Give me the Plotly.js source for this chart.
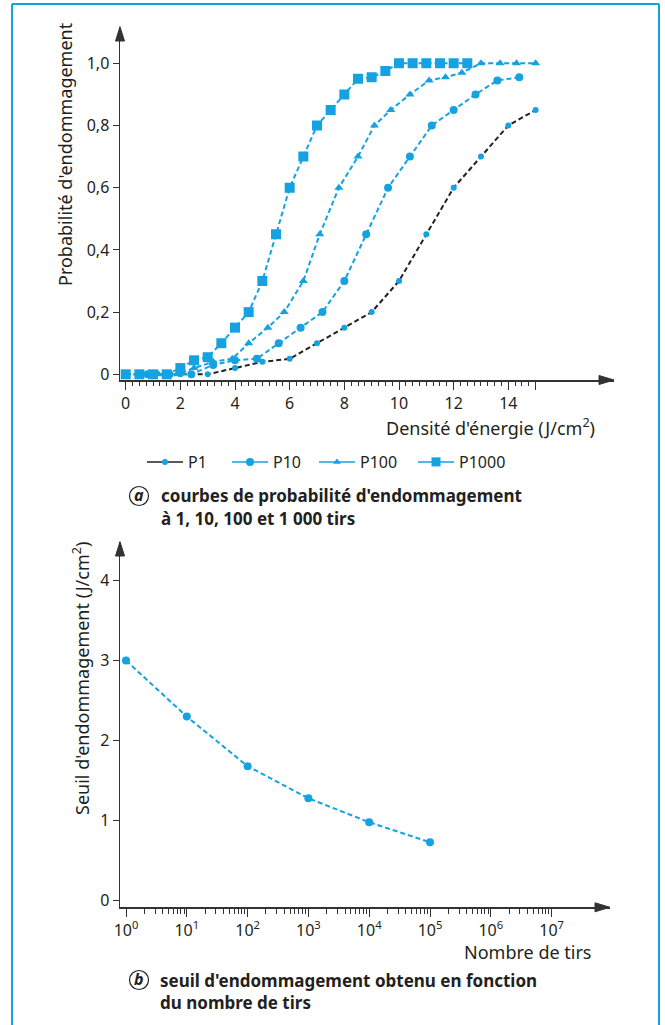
<!DOCTYPE html>
<html>
<head>
<meta charset="utf-8">
<script src="https://cdn.plot.ly/plotly-3.0.1.min.js"></script>
<style>
  html, body { margin: 0; padding: 0; background: #ffffff; }
  #chart { width: 665px; height: 1025px; }
</style>
</head>
<body>
<div id="chart"></div>
<script>
// ---- Data ----
// (a) damage probability vs energy density (J/cm2)
const P1_x = [0, 1, 2, 3, 4, 5, 6, 7, 8, 9, 10, 11, 12, 13, 14, 15];
const P1_y = [0, 0, 0, 0, 0.02, 0.04, 0.05, 0.1, 0.15, 0.2, 0.3, 0.45, 0.6, 0.7, 0.8, 0.85];

const P10_x = [0, 0.8, 1.6, 2.4, 3.2, 4.0, 4.8, 5.6, 6.4, 7.2, 8.0, 8.8, 9.6, 10.4, 11.2, 12.0, 12.8, 13.6, 14.4];
const P10_y = [0, 0, 0, 0, 0.03, 0.045, 0.05, 0.1, 0.15, 0.2, 0.3, 0.45, 0.6, 0.7, 0.8, 0.85, 0.9, 0.945, 0.955];

const P100_x = [0, 0.5, 1.2, 1.9, 2.5, 3.2, 3.9, 4.5, 5.2, 5.8, 6.5, 7.1, 7.8, 8.5, 9.1, 9.7, 10.4, 11.1, 11.7, 12.3, 13.0, 13.7, 14.3, 15.0];
const P100_y = [0, 0, 0, 0, 0.02, 0.04, 0.05, 0.1, 0.15, 0.2, 0.3, 0.45, 0.6, 0.7, 0.8, 0.85, 0.9, 0.945, 0.955, 0.97, 1.0, 1.0, 1.0, 1.0];

const P1000_x = [0, 0.5, 1, 1.5, 2, 2.5, 3, 3.5, 4, 4.5, 5, 5.5, 6, 6.5, 7, 7.5, 8, 8.5, 9, 9.5, 10, 10.5, 11, 11.5, 12, 12.5];
const P1000_y = [0, 0, 0, 0, 0.02, 0.045, 0.055, 0.1, 0.15, 0.2, 0.3, 0.45, 0.6, 0.7, 0.8, 0.85, 0.9, 0.95, 0.955, 0.975, 1.0, 1.0, 1.0, 1.0, 1.0, 1.0];

const seriesNames = ['P1', 'P10', 'P100', 'P1000'];

const topXTickVals = [0, 2, 4, 6, 8, 10, 12, 14, 15];
const topXTickText = ['0', '2', '4', '6', '8', '10', '12', '14', ' '];
const topYTickVals = [0, 0.2, 0.4, 0.6, 0.8, 1.0];
const topYTickText = ['0', '0,2', '0,4', '0,6', '0,8', '1,0'];

// (b) damage threshold vs number of shots
const shots = [1, 10, 100, 1000, 10000, 100000];
const threshold = [3.0, 2.3, 1.68, 1.28, 0.98, 0.73];

const botXTickVals = [1, 10, 100, 1000, 10000, 100000, 1000000, 10000000];
const botXTickText = ['10<sup>0</sup>', '10<sup>1</sup>', '10<sup>2</sup>', '10<sup>3</sup>',
                      '10<sup>4</sup>', '10<sup>5</sup>', '10<sup>6</sup>', '10<sup>7</sup>'];
const botYTickVals = [0, 1, 2, 3, 4];
const botYTickText = ['0', '1', '2', '3', '4'];

// ---- Styling ----
const W = 665, H = 1025;
const BLUE = '#14A3E0';
const INK = '#231F20';
const AXIS = '#333333';
const FONT = 'Noto Sans, Open Sans, DejaVu Sans, sans-serif';
const DASH = '5px,3px';

const px = v => v / W;
const py = v => 1 - v / H;

// minor tick positions (axis decoration, not data)
const topMinor = [];
for (let i = 0; i <= 60; i++) topMinor.push(i * 0.25);
const botMinor = [];
for (let k = 0; k <= 6; k++) for (let m = 2; m <= 9; m++) botMinor.push(m * Math.pow(10, k));

const traces = [
  { x: P1_x, y: P1_y, name: seriesNames[0], mode: 'lines+markers', xaxis: 'x', yaxis: 'y',
    line: { color: '#222222', width: 2, dash: DASH }, marker: { color: BLUE, size: 6, symbol: 'circle' },
    showlegend: false },
  { x: P10_x, y: P10_y, name: seriesNames[1], mode: 'lines+markers', xaxis: 'x', yaxis: 'y',
    line: { color: BLUE, width: 2, dash: DASH }, marker: { color: BLUE, size: 8, symbol: 'circle' },
    showlegend: false },
  { x: P100_x, y: P100_y, name: seriesNames[2], mode: 'lines+markers', xaxis: 'x', yaxis: 'y',
    line: { color: BLUE, width: 2, dash: DASH }, marker: { color: BLUE, size: 8, symbol: 'triangle-up' },
    showlegend: false },
  { x: P1000_x, y: P1000_y, name: seriesNames[3], mode: 'lines+markers', xaxis: 'x', yaxis: 'y',
    line: { color: BLUE, width: 2, dash: DASH }, marker: { color: BLUE, size: 10, symbol: 'square' },
    showlegend: false },
  // legend entries (solid lines, as in the reference legend)
  { x: [null], y: [null], name: seriesNames[0], mode: 'lines+markers', xaxis: 'x', yaxis: 'y',
    line: { color: '#222222', width: 1.5 }, marker: { color: BLUE, size: 6, symbol: 'circle' }, legendwidth: 34 },
  { x: [null], y: [null], name: seriesNames[1], mode: 'lines+markers', xaxis: 'x', yaxis: 'y',
    line: { color: BLUE, width: 1.5 }, marker: { color: BLUE, size: 8, symbol: 'circle' }, legendwidth: 36 },
  { x: [null], y: [null], name: seriesNames[2], mode: 'lines+markers', xaxis: 'x', yaxis: 'y',
    line: { color: BLUE, width: 1.5 }, marker: { color: BLUE, size: 7, symbol: 'triangle-up' }, legendwidth: 48 },
  { x: [null], y: [null], name: seriesNames[3], mode: 'lines+markers', xaxis: 'x', yaxis: 'y',
    line: { color: BLUE, width: 1.5 }, marker: { color: BLUE, size: 9, symbol: 'square' }, legendwidth: 50 },
  // (b)
  { x: shots, y: threshold, mode: 'lines+markers', xaxis: 'x2', yaxis: 'y2',
    line: { color: BLUE, width: 2, dash: DASH }, marker: { color: BLUE, size: 8, symbol: 'circle' },
    showlegend: false }
];

const tickFont = { family: FONT, size: 16, color: INK };
const axisCommon = {
  showline: true, linecolor: AXIS, linewidth: 1.5, showgrid: false, zeroline: false,
  ticks: 'outside', tickcolor: AXIS, tickwidth: 1, tickfont: tickFont, tickmode: 'array', fixedrange: true
};

function tri(ax, ay, bx, by, cx, cy) {
  return 'M' + px(ax) + ',' + py(ay) + ' L' + px(bx) + ',' + py(by) + ' L' + px(cx) + ',' + py(cy) + ' Z';
}
function arrowShape(path) {
  return { type: 'path', xref: 'paper', yref: 'paper', path: path,
           fillcolor: AXIS, line: { color: AXIS, width: 1 } };
}
function lineShape(x0, y0, x1, y1, color, width) {
  return { type: 'line', xref: 'paper', yref: 'paper', x0: px(x0), y0: py(y0), x1: px(x1), y1: py(y1),
           line: { color: color, width: width } };
}
function circleShape(cx, cy, r) {
  return { type: 'circle', xref: 'paper', yref: 'paper',
           x0: px(cx - r), x1: px(cx + r), y0: py(cy + r), y1: py(cy - r),
           line: { color: INK, width: 1.2 } };
}
function note(text, x, y, opts) {
  return Object.assign({ text: text, xref: 'paper', yref: 'paper', x: px(x), y: py(y),
    showarrow: false, xanchor: 'left', yanchor: 'middle',
    font: { family: FONT, size: 18, color: INK } }, opts || {});
}

const capFont = { family: FONT, size: 17, color: INK };

const layout = {
  width: W, height: H, autosize: false,
  margin: { l: 0, r: 0, t: 0, b: 0, pad: 0 },
  paper_bgcolor: '#ffffff', plot_bgcolor: '#ffffff',
  font: { family: FONT, color: INK },
  showlegend: true,
  legend: {
    orientation: 'h', x: px(142), y: py(462), xanchor: 'left', yanchor: 'middle',
    itemwidth: 36,
    font: { family: FONT, size: 16, color: INK }, bgcolor: 'rgba(0,0,0,0)', borderwidth: 0
  },
  xaxis: Object.assign({}, axisCommon, {
    domain: [px(120), px(614)], range: [-0.2086, 17.867], anchor: 'y',
    tickvals: topXTickVals, ticktext: topXTickText, ticklen: 8,
    minor: { tickmode: 'array', tickvals: topMinor, ticks: 'outside', ticklen: 4, tickcolor: AXIS, tickwidth: 1 }
  }),
  yaxis: Object.assign({}, axisCommon, {
    domain: [py(380), py(26.7)], range: [-0.0183, 1.1177], anchor: 'x',
    tickvals: topYTickVals, ticktext: topYTickText, ticklen: 6
  }),
  xaxis2: Object.assign({}, axisCommon, {
    type: 'log', domain: [px(120), px(610)], range: [-0.0987, 7.9605], anchor: 'y2',
    tickvals: botXTickVals, ticktext: botXTickText, ticklen: 8,
    minor: { tickmode: 'array', tickvals: botMinor, ticks: 'outside', ticklen: 5, tickcolor: AXIS, tickwidth: 1 }
  }),
  yaxis2: Object.assign({}, axisCommon, {
    domain: [py(907.3), py(541.7)], range: [-0.0824, 4.4847], anchor: 'x2',
    tickvals: botYTickVals, ticktext: botYTickText, ticklen: 6
  }),
  shapes: [
    // blue frame
    lineShape(12, 4, 659, 4, BLUE, 2),
    lineShape(12, 4, 12, 1025, BLUE, 2),
    lineShape(659, 4, 659, 1025, BLUE, 2),
    // axis arrowheads
    arrowShape(tri(115.5, 41, 120, 26.7, 124.5, 41)),
    arrowShape(tri(599, 375.5, 614, 380, 599, 384.5)),
    arrowShape(tri(115.5, 556, 120, 541.7, 124.5, 556)),
    arrowShape(tri(595, 902.8, 610, 907.3, 595, 911.8)),
    // caption circles
    circleShape(139, 496, 9.5),
    circleShape(139, 980, 9.5)
  ],
  annotations: [
    note('Probabilité d\'endommagement', 65, 154, { textangle: -90, xanchor: 'center' }),
    note('Densité d\'énergie (J/cm<sup>2</sup>)', 597, 427, { xanchor: 'right' }),
    note('Seuil d\'endommagement (J/cm<sup>2</sup>)', 81, 679, { textangle: -90, xanchor: 'center' }),
    note('Nombre de tirs', 593, 952, { xanchor: 'right' }),
    note('<b><i>a</i></b>', 139, 495, { xanchor: 'center', font: { family: FONT, size: 16, color: INK } }),
    note('<b>courbes de probabilité d\'endommagement</b>', 159, 495, { font: capFont }),
    note('<b>à 1, 10, 100 et 1 000 tirs</b>', 159, 518, { font: capFont }),
    note('<b><i>b</i></b>', 139, 979, { xanchor: 'center', font: { family: FONT, size: 16, color: INK } }),
    note('<b>seuil d\'endommagement obtenu en fonction</b>', 158, 980, { font: capFont }),
    note('<b>du nombre de tirs</b>', 158, 1002, { font: capFont })
  ]
};

Plotly.newPlot('chart', traces, layout, { displayModeBar: false, staticPlot: true });
</script>
</body>
</html>
